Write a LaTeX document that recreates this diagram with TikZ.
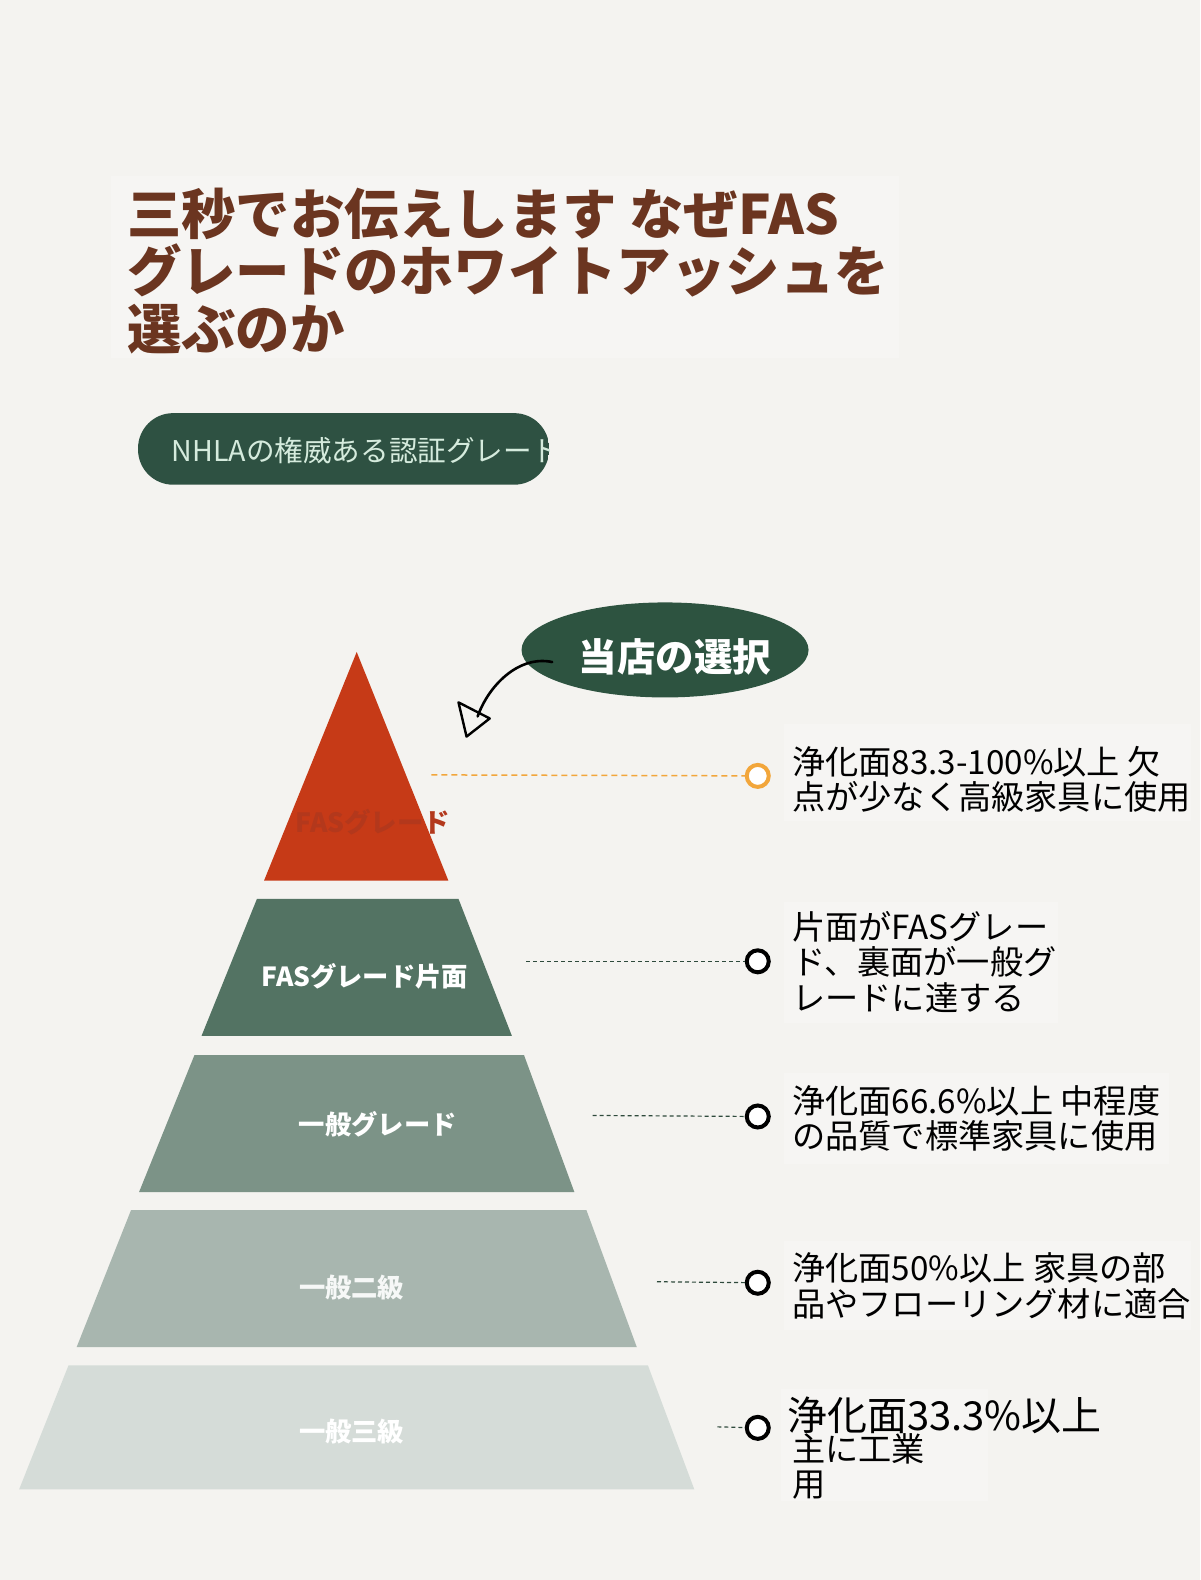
\documentclass[tikz,border=0pt]{standalone}
\usepackage{fontspec}
\usetikzlibrary{shapes.geometric}
\setmainfont{Noto Sans CJK JP}
\definecolor{bg}{HTML}{F4F3F0}
\definecolor{boxbg}{HTML}{F6F5F3}
\definecolor{brown}{HTML}{6B3520}
\definecolor{pillgreen}{HTML}{2E5142}
\definecolor{pilltext}{HTML}{D5EBDD}
\definecolor{ellgreen}{HTML}{2D5340}
\definecolor{redtop}{HTML}{C63A17}
\definecolor{redtext}{HTML}{B3381C}
\definecolor{tierb}{HTML}{537363}
\definecolor{tierc}{HTML}{7C9387}
\definecolor{tierd}{HTML}{A8B6AF}
\definecolor{tiere}{HTML}{D5DCD8}
\definecolor{orangec}{HTML}{F2A63B}
\definecolor{dashgreen}{HTML}{2E4A3C}
\tikzset{
  desc/.style={anchor=north west, inner sep=0pt, align=left, text=black, font=\fontsize{33.2}{35.5}\selectfont},
  tierlabel/.style={inner sep=0pt, text=white, font=\bfseries\fontsize{26.3}{30}\selectfont},
  dot/.style={circle, draw=black, line width=4pt, fill=white, minimum size=22pt, inner sep=0pt},
  leader/.style={dashgreen, line width=1.2pt, dash pattern=on 4pt off 3pt},
}
\begin{document}
\begin{tikzpicture}[x=1.00756pt,y=-1.00756pt]
\fill[bg] (0,0) rectangle (1191,1568);
\useasboundingbox (0,0) rectangle (1191,1568);
% faint boxes
\fill[boxbg] (110,175) rectangle (892,355);
\fill[boxbg] (778,718) rectangle (1182,815);
\fill[boxbg] (778,895) rectangle (1050,1015);
\fill[boxbg] (778,1065) rectangle (1160,1155);
\fill[boxbg] (778,1232) rectangle (1182,1320);
\fill[boxbg] (775,1378) rectangle (980,1490);
% title
\node[anchor=north west, inner sep=0pt, align=left, text=brown, font=\bfseries\fontsize{54.4}{57.8}\selectfont] (title) at (126,186)
 {三秒でお伝えします なぜFAS\\グレードのホワイトアッシュを\\選ぶのか};
% pill
\begin{scope}
\clip[rounded corners=35pt] (137,410) rectangle (545,481);
\fill[pillgreen] (137,410) rectangle (545,481);
\node[anchor=west, inner sep=0pt, text=pilltext, font=\fontsize{28.6}{30}\selectfont] (pill) at (170,447) {NHLAの権威ある認証グレード};
\end{scope}
% ellipse
\node[ellipse, fill=ellgreen, minimum width=287pt, minimum height=95pt, inner sep=0pt] (sel) at (660,645) {};
\node[text=white, inner sep=0pt, font=\bfseries\fontsize{38.5}{40}\selectfont] (seltext) at (670,652) {当店の選択};
% arrow
\coordinate (arrstart) at (548,657);
\coordinate (arrend) at (474,711);
\draw[black, line width=2.6pt, line cap=round] (arrstart) .. controls (515,650) and (485,680) .. (arrend);
\draw[black, line width=2.4pt, line join=round] (455,697) -- (486,713) -- (463,731) -- cycle;
% pyramid
\fill[redtop] (354,647) -- (445,874) -- (262,874) -- cycle;
\node[inner sep=0pt, text=redtext, font=\bfseries\fontsize{26.5}{28}\selectfont] (fas) at (370,816) {FASグレード};
\fill[tierb] (255,892) -- (455,892) -- (508,1028) -- (200,1028) -- cycle;
\node[tierlabel] (fasone) at (362,969) {FASグレード片面};
\fill[tierc] (193,1047) -- (520,1047) -- (570,1183) -- (138,1183) -- cycle;
\node[tierlabel] (gen) at (375,1116) {一般グレード};
\fill[tierd] (130,1201) -- (582,1201) -- (632,1337) -- (76,1337) -- cycle;
\node[tierlabel, text=white!90!tierd] (gen2) at (349,1278) {一般二級};
\fill[tiere] (68,1355) -- (643,1355) -- (689,1478) -- (19,1478) -- cycle;
\node[tierlabel] (gen3) at (349,1421) {一般三級};
% dots
\node[dot, draw=orangec] (d1) at (752,770) {};
\node[dot] (d2) at (752,954) {};
\node[dot] (d3) at (752,1108) {};
\node[dot] (d4) at (752,1273) {};
\node[dot] (d5) at (752,1417) {};
\coordinate (s1) at (428,769);
\coordinate (s2) at (522,954);
\coordinate (s3) at (588,1107);
\coordinate (s4) at (652,1272);
\coordinate (s5) at (712,1416);
\draw[orangec, line width=1.5pt, dash pattern=on 6pt off 4pt] (s1) -- (d1);
\draw[leader] (s2) -- (d2);
\draw[leader] (s3) -- (d3);
\draw[leader] (s4) -- (d4);
\draw[leader] (s5) -- (d5);
% descriptions
\node[desc] (t1) at (786,740) {浄化面83.3-100\%以上 欠\\点が少なく高級家具に使用};
\node[desc] (t2) at (786,904) {片面がFASグレー\\ド、裏面が一般グ\\レードに達する};
\node[desc] (t3) at (786,1077) {浄化面66.6\%以上 中程度\\の品質で標準家具に使用};
\node[desc] (t4) at (786,1243) {浄化面50\%以上 家具の部\\品やフローリング材に適合};
\node[desc, font=\fontsize{40}{42}\selectfont] (t5a) at (781,1386) {浄化面33.3\%以上};
\node[desc] (t5b) at (786,1422) {主に工業\\用};
\end{tikzpicture}
\end{document}
